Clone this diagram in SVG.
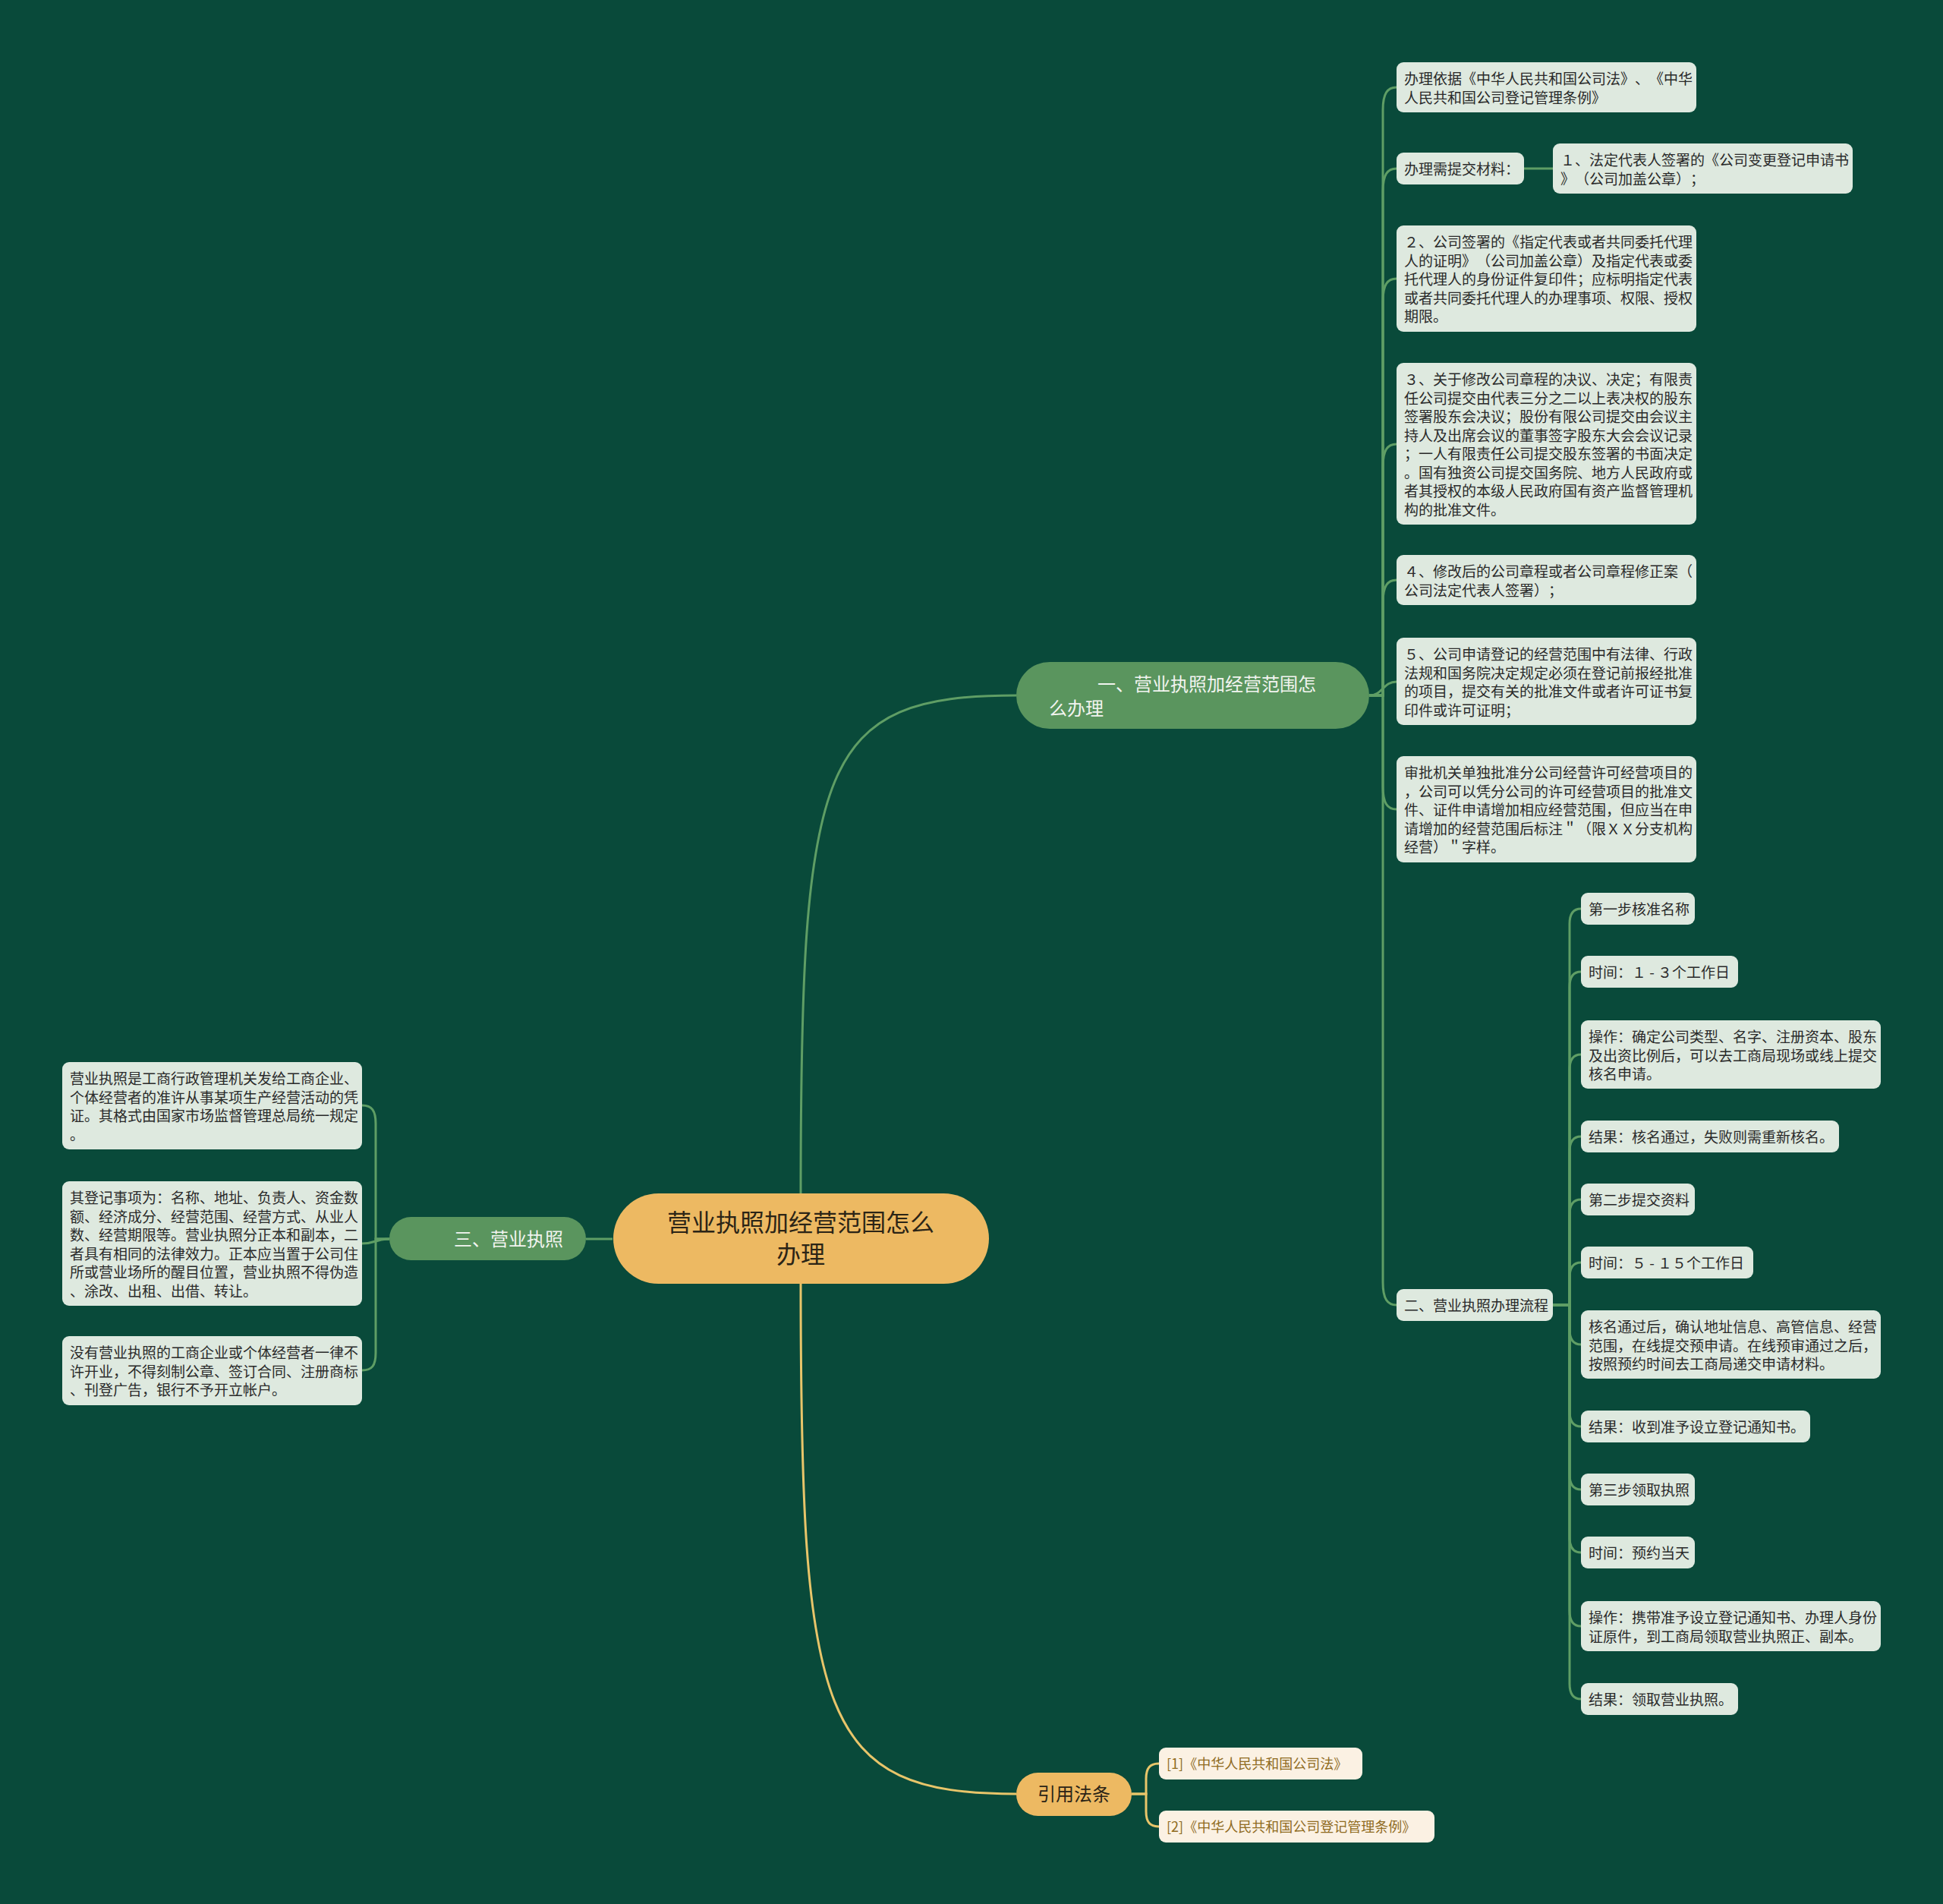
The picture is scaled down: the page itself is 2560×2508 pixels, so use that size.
<svg xmlns="http://www.w3.org/2000/svg" width="2560" height="2508" viewBox="0 0 2560 2508">
<style>
text{font-family:"Noto Sans CJK SC","Noto Sans",sans-serif;text-spacing-trim:space-all;font-feature-settings:"halt" 0,"chws" 0}
.leaf rect{fill:#DEE9DF}
.leaf text{font-size:19px;fill:#2a2a2a}
.cite rect{fill:#FBF1E3}
.cite text{font-size:18px;fill:#8F6B1F}
.gnode rect{fill:#5A955E}
.gnode text{font-size:24px;fill:#F2F4F0}
.ynode rect{fill:#EDB962}
.ynode text{fill:#2b2416}
.cg{fill:none;stroke:#5F9E65;stroke-width:3}
.cy{fill:none;stroke:#E8C56A;stroke-width:3}
</style>
<rect width="2560" height="2508" fill="#094A3A"/>
<g id="connectors">
<path class="cg" d="M1055,1572 C1055,1000 1080,916 1339,916"/>
<path class="cy" d="M1055,1691 C1055,2264 1080,2363 1339,2363"/>
<path class="cg" d="M807,1632 H772"/>
<path class="cg" d="M1804,916 H1822 V145 C1822,123 1828,115 1840,115"/>
<path class="cg" d="M1804,916 H1822 V252 C1822,230 1828,222 1840,222"/>
<path class="cg" d="M1804,916 H1822 V397 C1822,375 1828,367 1840,367"/>
<path class="cg" d="M1804,916 H1822 V615 C1822,593 1828,585 1840,585"/>
<path class="cg" d="M1804,916 H1822 V794 C1822,772 1828,764 1840,764"/>
<path class="cg" d="M1804,916 C1822,916 1822,898 1840,898"/>
<path class="cg" d="M1804,916 H1822 V1036 C1822,1058 1828,1066 1840,1066"/>
<path class="cg" d="M1804,916 H1822 V1689 C1822,1711 1828,1719 1840,1719"/>
<path class="cg" d="M2008,222 H2046"/>
<path class="cg" d="M2046,1719 H2068 V1217 C2068,1203 2073,1197 2083,1197"/>
<path class="cg" d="M2046,1719 H2068 V1300 C2068,1286 2073,1280 2083,1280"/>
<path class="cg" d="M2046,1719 H2068 V1409 C2068,1395 2073,1389 2083,1389"/>
<path class="cg" d="M2046,1719 H2068 V1517 C2068,1503 2073,1497 2083,1497"/>
<path class="cg" d="M2046,1719 H2068 V1600 C2068,1586 2073,1580 2083,1580"/>
<path class="cg" d="M2046,1719 H2068 V1683 C2068,1669 2073,1663 2083,1663"/>
<path class="cg" d="M2046,1719 H2068 V1751 C2068,1765 2073,1771 2083,1771"/>
<path class="cg" d="M2046,1719 H2068 V1859 C2068,1873 2073,1879 2083,1879"/>
<path class="cg" d="M2046,1719 H2068 V1942 C2068,1956 2073,1962 2083,1962"/>
<path class="cg" d="M2046,1719 H2068 V2025 C2068,2039 2073,2045 2083,2045"/>
<path class="cg" d="M2046,1719 H2068 V2122 C2068,2136 2073,2142 2083,2142"/>
<path class="cg" d="M2046,1719 H2068 V2218 C2068,2232 2073,2238 2083,2238"/>
<path class="cg" d="M513,1632 H495 V1480 C495,1463 490,1456 477,1456"/>
<path class="cg" d="M513,1632 C495,1632 495,1638 477,1638"/>
<path class="cg" d="M513,1632 H495 V1782 C495,1799 490,1805 477,1805"/>
<path class="cy" d="M1491,2363 H1510 V2343 C1510,2329 1515,2323 1527,2323"/>
<path class="cy" d="M1491,2363 H1510 V2386 C1510,2400 1515,2406 1527,2406"/>
</g>

<g id="root" class="ynode">
<rect x="808" y="1572" width="495" height="119" rx="59.5"/>
<text font-size="32" text-anchor="middle"><tspan x="1055" y="1622">营业执照加经营范围怎么</tspan><tspan x="1055" y="1664">办理</tspan></text>
</g>

<g id="b1" class="gnode">
<rect x="1339" y="872" width="465" height="88" rx="44"/>
<text><tspan x="1446" y="910">一、营业执照加经营范围怎</tspan><tspan x="1382" y="942">么办理</tspan></text>
</g>

<g id="b3" class="gnode">
<rect x="513" y="1603" width="259" height="57" rx="28.5"/>
<text x="598" y="1641">三、营业执照</text>
</g>

<g id="b4" class="ynode">
<rect x="1339" y="2335" width="152" height="57" rx="28.5"/>
<text x="1415" y="2372" font-size="24" text-anchor="middle">引用法条</text>
</g>

<g id="n-a" class="leaf">
<rect x="1840" y="82" width="395" height="66" rx="9"/>
<text><tspan x="1850" y="111">办理依据《中华人民共和国公司法》、《中华</tspan><tspan x="1850" y="135.5">人民共和国公司登记管理条例》</tspan></text>
</g>
<g id="n-b" class="leaf">
<rect x="1840" y="201" width="168" height="42" rx="9"/>
<text x="1850" y="230">办理需提交材料：</text>
</g>
<g id="n-c" class="leaf">
<rect x="2046" y="189" width="395" height="66" rx="9"/>
<text><tspan x="2056" y="218">１、法定代表人签署的《公司变更登记申请书</tspan><tspan x="2056" y="242.5">》（公司加盖公章）；</tspan></text>
</g>
<g id="n-d" class="leaf">
<rect x="1840" y="297" width="395" height="140" rx="9"/>
<text><tspan x="1850" y="326">２、公司签署的《指定代表或者共同委托代理</tspan><tspan x="1850" y="350.5">人的证明》（公司加盖公章）及指定代表或委</tspan><tspan x="1850" y="375">托代理人的身份证件复印件；应标明指定代表</tspan><tspan x="1850" y="399.5">或者共同委托代理人的办理事项、权限、授权</tspan><tspan x="1850" y="424">期限。</tspan></text>
</g>
<g id="n-e" class="leaf">
<rect x="1840" y="478" width="395" height="213" rx="9"/>
<text><tspan x="1850" y="507">３、关于修改公司章程的决议、决定；有限责</tspan><tspan x="1850" y="531.5">任公司提交由代表三分之二以上表决权的股东</tspan><tspan x="1850" y="556">签署股东会决议；股份有限公司提交由会议主</tspan><tspan x="1850" y="580.5">持人及出席会议的董事签字股东大会会议记录</tspan><tspan x="1850" y="605">；一人有限责任公司提交股东签署的书面决定</tspan><tspan x="1850" y="629.5">。国有独资公司提交国务院、地方人民政府或</tspan><tspan x="1850" y="654">者其授权的本级人民政府国有资产监督管理机</tspan><tspan x="1850" y="678.5">构的批准文件。</tspan></text>
</g>
<g id="n-f" class="leaf">
<rect x="1840" y="731" width="395" height="66" rx="9"/>
<text><tspan x="1850" y="760">４、修改后的公司章程或者公司章程修正案（</tspan><tspan x="1850" y="784.5">公司法定代表人签署）；</tspan></text>
</g>
<g id="n-g" class="leaf">
<rect x="1840" y="840" width="395" height="115" rx="9"/>
<text><tspan x="1850" y="869">５、公司申请登记的经营范围中有法律、行政</tspan><tspan x="1850" y="893.5">法规和国务院决定规定必须在登记前报经批准</tspan><tspan x="1850" y="918">的项目，提交有关的批准文件或者许可证书复</tspan><tspan x="1850" y="942.5">印件或许可证明；</tspan></text>
</g>
<g id="n-h" class="leaf">
<rect x="1840" y="996" width="395" height="140" rx="9"/>
<text><tspan x="1850" y="1025">审批机关单独批准分公司经营许可经营项目的</tspan><tspan x="1850" y="1049.5">，公司可以凭分公司的许可经营项目的批准文</tspan><tspan x="1850" y="1074">件、证件申请增加相应经营范围，但应当在申</tspan><tspan x="1850" y="1098.5">请增加的经营范围后标注＂（限ＸＸ分支机构</tspan><tspan x="1850" y="1123">经营）＂字样。</tspan></text>
</g>
<g id="n-2" class="leaf">
<rect x="1840" y="1698" width="206" height="42" rx="9"/>
<text x="1850" y="1727">二、营业执照办理流程</text>
</g>

<g id="s1" class="leaf"><rect x="2083" y="1176" width="150" height="42" rx="9"/><text x="2093" y="1205">第一步核准名称</text></g>
<g id="s2" class="leaf"><rect x="2083" y="1259" width="207" height="42" rx="9"/><text x="2093" y="1288">时间：１ - ３个工作日</text></g>
<g id="s3" class="leaf"><rect x="2083" y="1344" width="395" height="90" rx="9"/><text><tspan x="2093" y="1373">操作：确定公司类型、名字、注册资本、股东</tspan><tspan x="2093" y="1397.5">及出资比例后，可以去工商局现场或线上提交</tspan><tspan x="2093" y="1422">核名申请。</tspan></text></g>
<g id="s4" class="leaf"><rect x="2083" y="1476" width="340" height="42" rx="9"/><text x="2093" y="1505">结果：核名通过，失败则需重新核名。</text></g>
<g id="s5" class="leaf"><rect x="2083" y="1559" width="150" height="42" rx="9"/><text x="2093" y="1588">第二步提交资料</text></g>
<g id="s6" class="leaf"><rect x="2083" y="1642" width="227" height="42" rx="9"/><text x="2093" y="1671">时间：５ - １５个工作日</text></g>
<g id="s7" class="leaf"><rect x="2083" y="1726" width="395" height="90" rx="9"/><text><tspan x="2093" y="1755">核名通过后，确认地址信息、高管信息、经营</tspan><tspan x="2093" y="1779.5">范围，在线提交预申请。在线预审通过之后，</tspan><tspan x="2093" y="1804">按照预约时间去工商局递交申请材料。</tspan></text></g>
<g id="s8" class="leaf"><rect x="2083" y="1858" width="302" height="42" rx="9"/><text x="2093" y="1887">结果：收到准予设立登记通知书。</text></g>
<g id="s9" class="leaf"><rect x="2083" y="1941" width="150" height="42" rx="9"/><text x="2093" y="1970">第三步领取执照</text></g>
<g id="s10" class="leaf"><rect x="2083" y="2024" width="150" height="42" rx="9"/><text x="2093" y="2053">时间：预约当天</text></g>
<g id="s11" class="leaf"><rect x="2083" y="2109" width="395" height="66" rx="9"/><text><tspan x="2093" y="2138">操作：携带准予设立登记通知书、办理人身份</tspan><tspan x="2093" y="2162.5">证原件，到工商局领取营业执照正、副本。</tspan></text></g>
<g id="s12" class="leaf"><rect x="2083" y="2217" width="207" height="42" rx="9"/><text x="2093" y="2246">结果：领取营业执照。</text></g>

<g id="l1" class="leaf"><rect x="82" y="1399" width="395" height="115" rx="9"/><text><tspan x="92" y="1428">营业执照是工商行政管理机关发给工商企业、</tspan><tspan x="92" y="1452.5">个体经营者的准许从事某项生产经营活动的凭</tspan><tspan x="92" y="1477">证。其格式由国家市场监督管理总局统一规定</tspan><tspan x="92" y="1501.5">。</tspan></text></g>
<g id="l2" class="leaf"><rect x="82" y="1556" width="395" height="164" rx="9"/><text><tspan x="92" y="1585">其登记事项为：名称、地址、负责人、资金数</tspan><tspan x="92" y="1609.5">额、经济成分、经营范围、经营方式、从业人</tspan><tspan x="92" y="1634">数、经营期限等。营业执照分正本和副本，二</tspan><tspan x="92" y="1658.5">者具有相同的法律效力。正本应当置于公司住</tspan><tspan x="92" y="1683">所或营业场所的醒目位置，营业执照不得伪造</tspan><tspan x="92" y="1707.5">、涂改、出租、出借、转让。</tspan></text></g>
<g id="l3" class="leaf"><rect x="82" y="1760" width="395" height="91" rx="9"/><text><tspan x="92" y="1789">没有营业执照的工商企业或个体经营者一律不</tspan><tspan x="92" y="1813.5">许开业，不得刻制公章、签订合同、注册商标</tspan><tspan x="92" y="1838">、刊登广告，银行不予开立帐户。</tspan></text></g>

<g id="c1" class="cite"><rect x="1527" y="2302" width="268" height="42" rx="9"/><text x="1537" y="2330">[1]《中华人民共和国公司法》</text></g>
<g id="c2" class="cite"><rect x="1527" y="2385" width="363" height="42" rx="9"/><text x="1537" y="2413">[2]《中华人民共和国公司登记管理条例》</text></g>
</svg>
